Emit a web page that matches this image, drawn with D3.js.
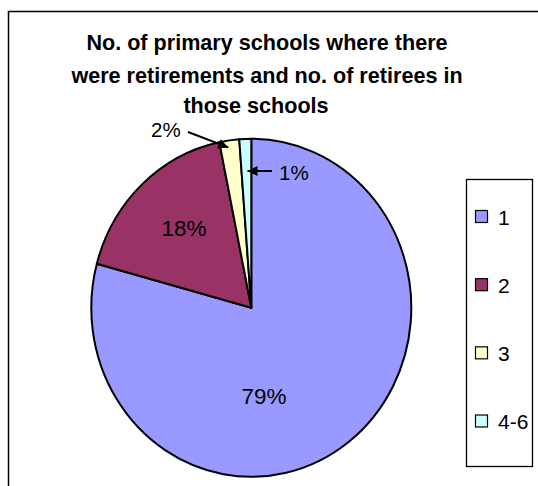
<!DOCTYPE html>
<html><head><meta charset="utf-8">
<script src="https://cdn.jsdelivr.net/npm/d3@7"></script>
<style>body{margin:0;background:#fff}svg{display:block}text{font-family:"Liberation Sans",Arial,sans-serif}</style>
</head><body>
<script>
const categories = ["1", "2", "3", "4-6"];
const values = [79.2, 17.6, 2.0, 1.2];
const colors = ["#9999FF", "#993366", "#FFFFCC", "#CCFFFF"];
const titleLines = ["No. of primary schools where there", "were retirements and no. of retirees in", "those schools"];

const W = 538, H = 486;
const svg = d3.select("body").append("svg").attr("width", W).attr("height", H);

svg.append("defs").append("marker").attr("id", "arr")
  .attr("viewBox", "0 0 10 10").attr("refX", 10).attr("refY", 5)
  .attr("markerWidth", 11).attr("markerHeight", 10).attr("markerUnits", "userSpaceOnUse")
  .attr("orient", "auto")
  .append("path").attr("d", "M0,0L10,5L0,10Z").attr("fill", "#000");

// outer frame
svg.append("rect").attr("x", 8.5).attr("y", 11.5).attr("width", 560).attr("height", 500)
  .attr("fill", "none").attr("stroke", "#000").attr("stroke-width", 1.5);

// title
const tx = [267, 267, 256], ty = [50, 83, 113];
svg.selectAll("text.title").data(titleLines).join("text").attr("class", "title")
  .attr("x", (d, i) => tx[i]).attr("y", (d, i) => ty[i])
  .attr("text-anchor", "middle").attr("font-weight", "bold").attr("font-size", 21.6)
  .text(d => d);

// pie
const cx = 251.3, cy = 307.8, rx = 160, ry = 169;
const pie = d3.pie().sort(null).value(d => d)(values);
const arc = d3.arc().innerRadius(0).outerRadius(rx);
const g = svg.append("g").attr("transform", `translate(${cx},${cy}) scale(1,${ry / rx})`);
g.selectAll("path").data(pie).join("path")
  .attr("d", arc).attr("fill", (d, i) => colors[i])
  .attr("stroke", "#000").attr("stroke-width", 2).attr("stroke-linejoin", "round")
  .attr("vector-effect", "non-scaling-stroke");

const pct = d => Math.round(d.value) + "%";
function pt(a, f) { return [cx + Math.sin(a) * rx * f, cy - Math.cos(a) * ry * f]; }

// inside labels
const inside = [{i: 0, x: 264, y: 404}, {i: 1, x: 184, y: 236}];
inside.forEach(o => {
  svg.append("text").attr("x", o.x).attr("y", o.y).attr("text-anchor", "middle")
    .attr("font-size", 22.5).text(pct(pie[o.i]));
});

// outside labels with arrows
const p3 = pt((pie[2].startAngle + pie[2].endAngle) / 2, 1.0);
svg.append("text").attr("x", 151).attr("y", 137).attr("font-size", 20.5).text(pct(pie[2]));
svg.append("line").attr("x1", 188).attr("y1", 132).attr("x2", p3[0] - 1).attr("y2", p3[1] + 7)
  .attr("stroke", "#000").attr("stroke-width", 2).attr("marker-end", "url(#arr)");

const p4 = pt((pie[3].startAngle + pie[3].endAngle) / 2, 0.8);
svg.append("text").attr("x", 279).attr("y", 180).attr("font-size", 20.5).text(pct(pie[3]));
svg.append("line").attr("x1", 272).attr("y1", 171).attr("x2", p4[0] + 1).attr("y2", 171)
  .attr("stroke", "#000").attr("stroke-width", 2).attr("marker-end", "url(#arr)");

// legend
svg.append("rect").attr("x", 466.5).attr("y", 179.5).attr("width", 66).attr("height", 287)
  .attr("fill", "#fff").attr("stroke", "#000").attr("stroke-width", 1.3);
const ly = d3.scalePoint().domain(categories).range([216.5, 421]);
const lg = svg.selectAll("g.leg").data(categories).join("g").attr("class", "leg")
  .attr("transform", d => `translate(475,${ly(d)})`);
lg.append("rect").attr("x", 0.5).attr("y", -6).attr("width", 12).attr("height", 12)
  .attr("fill", (d, i) => colors[i]).attr("stroke", "#000").attr("stroke-width", 1.2);
lg.append("text").attr("x", 23).attr("y", 8).attr("font-size", 21).text(d => d);
</script>
</body></html>
